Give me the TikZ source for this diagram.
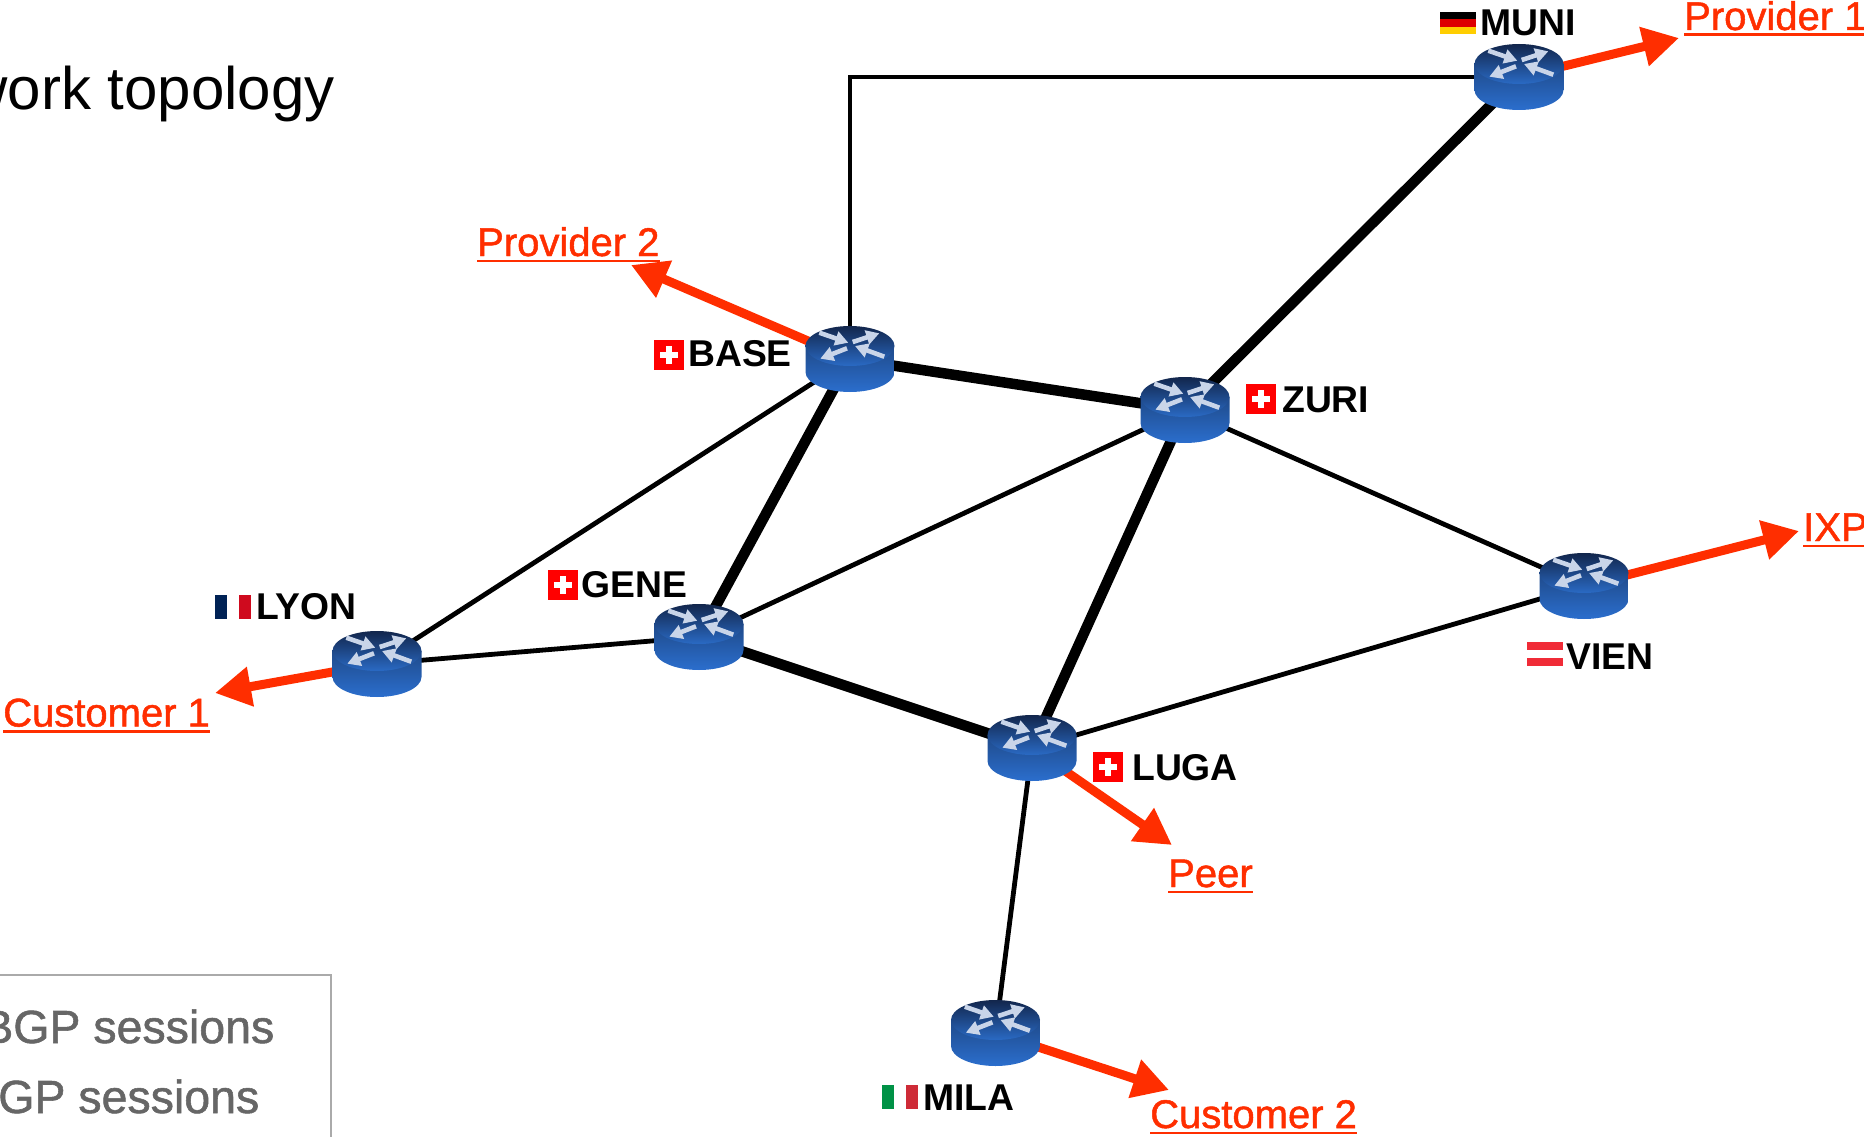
\documentclass[tikz,border=0pt]{standalone}
\usepackage{fontspec}
\setmainfont{Liberation Sans}
\newfontfamily\mediumsans[FakeBold=1.2]{Liberation Sans}
\usetikzlibrary{arrows.meta}
\definecolor{linkred}{HTML}{FF2E00}
\definecolor{legendgray}{HTML}{666666}
\definecolor{legendline}{HTML}{AAAAAA}
\definecolor{swissred}{HTML}{FF0000}
\definecolor{arrowpale}{HTML}{C9D5E9}
\definecolor{bodytop}{HTML}{1F4A8A}
\definecolor{bodybottom}{HTML}{2B6ECD}
\definecolor{lidtop}{HTML}{12264C}
\definecolor{lidbottom}{HTML}{2A6AC4}
\definecolor{derot}{HTML}{DD0000}
\definecolor{degold}{HTML}{FFCE00}
\definecolor{atred}{HTML}{F02B37}
\definecolor{frblue}{HTML}{002255}
\definecolor{frred}{HTML}{CF0A1E}
\definecolor{itgreen}{HTML}{009246}
\definecolor{itred}{HTML}{CE2B37}
\newcommand{\linkul}[1]{\setbox0=\hbox{#1}\rlap{\vrule width\wd0 height -3.5pt depth 6.2pt}\box0 }
\tikzset{
  rtr/.style={rectangle,minimum width=89pt,minimum height=66pt,inner sep=0pt,outer sep=0pt},
  thinlink/.style={line width=4.8pt,black},
  thicklink/.style={line width=10.5pt,black},
  redlink/.style={line width=9pt,linkred,-{Triangle[length=36pt,width=38pt]}},
  routername/.style={anchor=base west,inner sep=0pt,font=\bfseries\fontsize{37.3}{40}\selectfont},
  extname/.style={anchor=base west,inner sep=0pt,text=linkred,font=\mediumsans\fontsize{40}{44}\selectfont},
  legendtext/.style={anchor=base east,inner sep=0pt,text=legendgray,font=\mediumsans\fontsize{46.5}{50}\selectfont},
  titletext/.style={anchor=base east,inner sep=0pt,font=\fontsize{60}{66}\selectfont},
  routerarrow/.style={line width=4.6pt,arrowpale,-{Triangle[length=13pt,width=14pt]}},
}
\newcommand{\routerart}[1]{%
  \begin{scope}[shift={(#1.center)}]
    \shade[top color=bodytop,bottom color=bodybottom]
      (-44.5,-13) -- (-44.5,13)
      .. controls (-44.5,24) and (-24.6,33) .. (0,33)
      .. controls (24.6,33) and (44.5,24) .. (44.5,13)
      -- (44.5,-13) -- cycle;
    \shade[top color=lidtop,bottom color=lidbottom]
      (0,-13) ellipse [x radius=44.5,y radius=20];
    \draw[routerarrow] (-30.7,-26.3) -- (-1.7,-16.3);
    \draw[routerarrow] (2.7,-17) -- (29.3,-25.7);
    \draw[routerarrow] (-3,-10.7) -- (-29.7,-0.3);
    \draw[routerarrow] (34.3,-2.3) -- (5,-13);
  \end{scope}}
\begin{document}
\begin{tikzpicture}[x=1pt,y=-1pt]
\useasboundingbox (0,0) rectangle (1864,1137);
\clip (0,0) rectangle (1864,1137);
% router nodes
\node[rtr] (MUNI) at (1519,77) {};
\node[rtr] (BASE) at (850,359) {};
\node[rtr] (ZURI) at (1185,410) {};
\node[rtr] (VIEN) at (1584,586) {};
\node[rtr] (LYON) at (377,664) {};
\node[rtr] (GENE) at (699,637) {};
\node[rtr] (LUGA) at (1032,748) {};
\node[rtr] (MILA) at (995.5,1033) {};
% free ends of the red arrows
\coordinate (tipProv1) at (1679,38);
\coordinate (tipProv2) at (631,265);
\coordinate (tipCust1) at (215,693);
\coordinate (tipIXP) at (1799,531);
\coordinate (tipPeer) at (1172,845);
\coordinate (tipCust2) at (1169,1090);
% title and legend
\node[titletext] (title) at (335,110) {work topology};
\draw[legendline,line width=1.5pt] (-10,975) -- (331,975) -- (331,1147);
\node[legendtext] (leg1) at (274.5,1043) {BGP sessions};
\node[legendtext] (leg2) at (259.5,1113) {GP sessions};
% connectors
\draw[thinlink] (BASE.center) |- (MUNI.center);
\draw[thinlink] (BASE.center) -- (LYON.center);
\draw[thinlink] (ZURI.center) -- (GENE.center);
\draw[thinlink] (ZURI.center) -- (VIEN.center);
\draw[thinlink] (LYON.center) -- (GENE.center);
\draw[thinlink] (LUGA.center) -- (VIEN.center);
\draw[thinlink] (LUGA.center) -- (MILA.center);
\draw[thicklink] (MUNI.center) -- (ZURI.center);
\draw[thicklink] (BASE.center) -- (ZURI.center);
\draw[thicklink] (BASE.center) -- (GENE.center);
\draw[thicklink] (ZURI.center) -- (LUGA.center);
\draw[thicklink] (GENE.center) -- (LUGA.center);
\draw[redlink] (MUNI.center) -- (tipProv1);
\draw[redlink] (BASE.center) -- (tipProv2);
\draw[redlink] (LYON.center) -- (tipCust1);
\draw[redlink] (VIEN.center) -- (tipIXP);
\draw[redlink] (LUGA.center) -- (tipPeer);
\draw[redlink] (MILA.center) -- (tipCust2);
% routers
\routerart{MUNI}\routerart{BASE}\routerart{ZURI}\routerart{VIEN}
\routerart{LYON}\routerart{GENE}\routerart{LUGA}\routerart{MILA}
% external labels
\node[extname] (lProv1) at (1684,30) {\linkul{Provider 1}};
\node[extname] (lProv2) at (477,256) {\linkul{Provider 2}};
\node[extname] (lCust1) at (3,726.5) {\linkul{Customer 1}};
\node[extname] (lIXP) at (1803,541) {\linkul{IXP}};
\node[extname] (lPeer) at (1168,887) {\linkul{Peer}};
\node[extname] (lCust2) at (1150,1128) {\linkul{Customer 2}};
% router names
\node[routername] (nMUNI) at (1480,36) {MUNI};
\node[routername] (nBASE) at (688,366) {BASE};
\node[routername] (nZURI) at (1282,412) {ZURI};
\node[routername] (nGENE) at (581,597) {GENE};
\node[routername] (nLUGA) at (1132,780) {LUGA};
\node[routername] (nVIEN) at (1566,669) {VIEN};
\node[routername] (nLYON) at (256,619) {LYON};
\node[routername] (nMILA) at (923,1110) {MILA};
% flags
\fill[black] (1440,12) rectangle (1476,19.5);
\fill[derot] (1440,19.5) rectangle (1476,27);
\fill[degold] (1440,27) rectangle (1476,34);
\foreach \fx/\fy in {654/340,1246/384,548/569.5,1093/752}{
  \fill[swissred] (\fx,\fy) rectangle +(30,30);
  \fill[white] (\fx+12,\fy+6) rectangle +(6,18);
  \fill[white] (\fx+6,\fy+12) rectangle +(18,6);
}
\fill[atred] (1527,642) rectangle (1563,650);
\fill[atred] (1527,658) rectangle (1563,666);
\fill[frblue] (215,595) rectangle (227,619);
\fill[frred] (239,595) rectangle (251,619);
\fill[itgreen] (882,1085) rectangle (894,1109);
\fill[itred] (906,1085) rectangle (918,1109);
\end{tikzpicture}
\end{document}
